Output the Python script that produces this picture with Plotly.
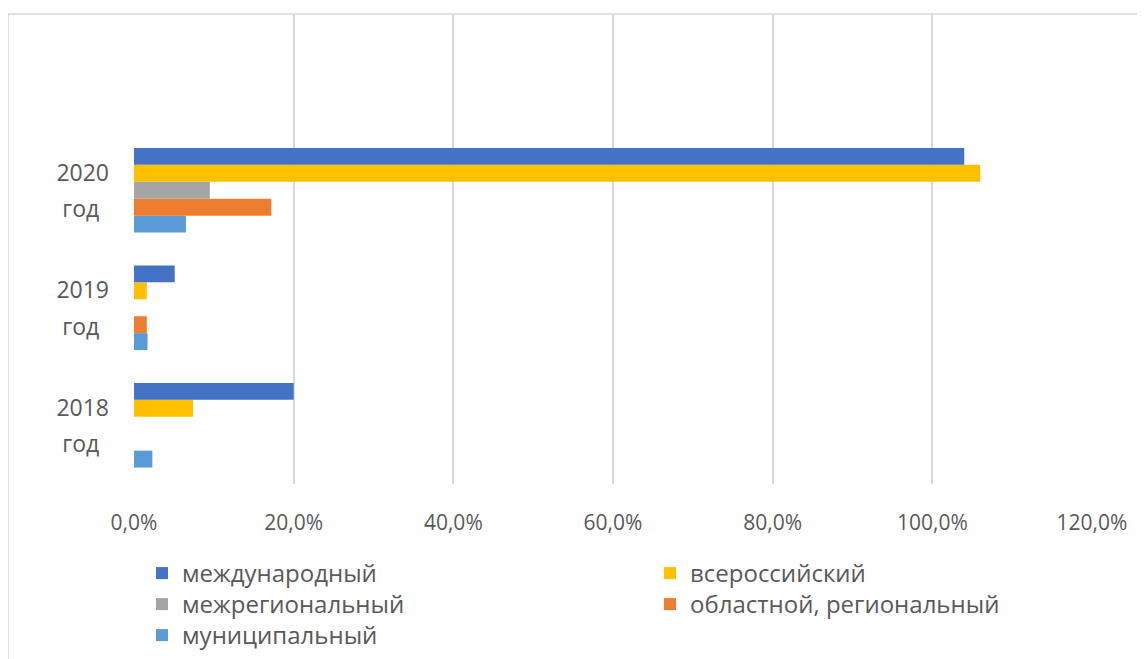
import plotly.graph_objects as go

categories = ["2018 год", "2019 год", "2020 год"]
year_labels = ["2018", "2019", "2020"]
series_names = ["международный", "всероссийский", "межрегиональный",
                "областной, региональный", "муниципальный"]
colors = ["#4472C4", "#FFC000", "#A5A5A5", "#ED7D31", "#5B9BD5"]
# values in %, order: 2018, 2019, 2020
mezhdunar = [20.0, 5.1, 104.0]
vseross = [7.4, 1.6, 106.0]
mezhreg = [None, None, 9.5]
oblast = [None, 1.6, 17.2]
munic = [2.3, 1.7, 6.5]
values = [mezhdunar, vseross, mezhreg, oblast, munic]
x_ticks = [0, 20, 40, 60, 80, 100, 120]
x_ticktext = ["0,0%", "20,0%", "40,0%", "60,0%", "80,0%", "100,0%", "120,0%"]

FONT = "Open Sans"
TXT = "#595959"
W, H = 1145, 659
OFF = 8  # page body margin

# legend slot (column x, row y) in page pixels, one legend per entry
leg_cols = [142, 650, 142, 650, 142]
leg_rows = [551, 551, 582, 582, 613]
leg_ids = ["legend", "legend2", "legend3", "legend4", "legend5"]

fig = go.Figure()
ypos = list(range(len(categories)))
for i in reversed(range(len(series_names))):
    fig.add_trace(go.Bar(
        y=ypos, x=values[i], orientation="h", name=series_names[i],
        marker=dict(color=colors[i], line=dict(width=0)),
        legend=leg_ids[i],
    ))

tickvals = []
ticktext = []
for k, yl in enumerate(year_labels):
    tickvals += [k + 0.15, k - 0.16]
    ticktext += [yl, "год\u00a0\u2009"]

legends = {}
for i, lid in enumerate(leg_ids):
    legends[lid] = dict(
        orientation="v", xref="container", yref="container",
        x=(leg_cols[i] - OFF) / W, y=1 - (leg_rows[i] - OFF) / H,
        xanchor="left", yanchor="top", bgcolor="rgba(0,0,0,0)",
        font=dict(family=FONT, size=24, color=TXT),
        itemwidth=30, tracegroupgap=0)

fig.update_layout(
    width=W, height=H,
    margin=dict(l=134 - OFF, r=53 + OFF, t=14 - OFF, b=H - 484 + OFF, autoexpand=False),
    paper_bgcolor="white", plot_bgcolor="white",
    barmode="group", bargap=0.28, bargroupgap=0,
    font=dict(family=FONT, size=20, color=TXT),
    xaxis=dict(range=[0, 120], tickvals=x_ticks, ticktext=x_ticktext,
               showgrid=True, gridcolor="#D9D9D9", gridwidth=2,
               zeroline=False, showline=False, ticks="", automargin=False,
               ticklabelstandoff=24,
               tickfont=dict(family=FONT, size=21, color=TXT)),
    yaxis=dict(range=[-0.5, 3.5], tickvals=tickvals, ticktext=ticktext,
               showgrid=False, zeroline=False, showline=False, ticks="",
               automargin=False, ticklabelstandoff=24,
               tickfont=dict(family=FONT, size=23, color=TXT)),
    showlegend=True,
    **legends,
)

# chart frame (light border)
fig.add_shape(type="rect", xref="paper", yref="paper",
              x0=-(134 - 8) / 958, x1=1.2, y0=-0.6, y1=1.0,
              line=dict(color="#D9D9D9", width=1.5), fillcolor="rgba(0,0,0,0)",
              layer="below")

fig.write_html("out.html")
